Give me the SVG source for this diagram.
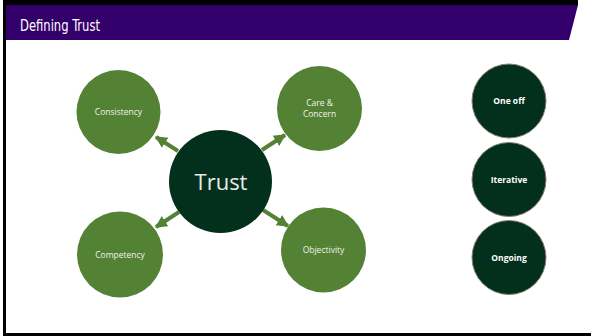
<svg xmlns="http://www.w3.org/2000/svg" width="591" height="336" viewBox="0 0 591 336">
<defs>
<style>
.sat{fill:#548235;}
.dark{fill:#03301d;}
.ring{fill:#03301d;stroke:#8a8070;stroke-width:1;}
.lbl{font-family:"Open Sans","DejaVu Sans",sans-serif;font-size:8.5px;fill:#eef2ea;text-anchor:middle;}
.blbl{font-family:"Open Sans","DejaVu Sans",sans-serif;font-size:8.5px;font-weight:bold;fill:#ffffff;text-anchor:middle;}
.conn{stroke:#548235;stroke-width:4;fill:none;}
</style>
<marker id="ah" viewBox="0 0 10 10" refX="9" refY="5" markerWidth="3" markerHeight="3.2" orient="auto" markerUnits="strokeWidth">
<path d="M0,0 L10,5 L0,10 Z" fill="#548235"/>
</marker>
</defs>
<rect width="591" height="336" fill="#ffffff"/>
<g id="frame">
<rect x="3" y="0" width="575" height="5" fill="#000000"/>
<rect x="3" y="0" width="3" height="336" fill="#000000"/>
<rect x="3" y="333" width="588" height="3" fill="#000000"/>
<polygon points="6,5 578,5 569,40 6,40" fill="#33006b"/>
<text x="20" y="31" font-family="'DejaVu Sans Condensed','Liberation Sans',sans-serif" font-size="15" fill="#ffffff" textLength="80" lengthAdjust="spacingAndGlyphs">Defining Trust</text>
</g>
<g id="connectors">
<line class="conn" x1="178" y1="151" x2="156" y2="137" marker-end="url(#ah)"/>
<line class="conn" x1="262" y1="150" x2="285" y2="135" marker-end="url(#ah)"/>
<line class="conn" x1="179" y1="212" x2="156" y2="227" marker-end="url(#ah)"/>
<line class="conn" x1="263" y1="210" x2="288" y2="226" marker-end="url(#ah)"/>
</g>
<g id="consistency">
<circle class="sat" cx="118.5" cy="112" r="42"/>
<text class="lbl" x="118.5" y="115">Consistency</text>
</g>
<g id="care">
<circle class="sat" cx="319.5" cy="108.5" r="42.5"/>
<text class="lbl" x="319.5" y="106">Care &amp;</text>
<text class="lbl" x="319.5" y="117">Concern</text>
</g>
<g id="trust">
<circle class="dark" cx="220.5" cy="181.5" r="51.5"/>
<text x="221" y="190" font-family="'Open Sans','DejaVu Sans',sans-serif" font-size="22" fill="#e8ece6" text-anchor="middle">Trust</text>
</g>
<g id="competency">
<circle class="sat" cx="120" cy="254.5" r="43"/>
<text class="lbl" x="120" y="257.5">Competency</text>
</g>
<g id="objectivity">
<circle class="sat" cx="323.5" cy="250" r="42.5"/>
<text class="lbl" x="323.5" y="253">Objectivity</text>
</g>
<g id="oneoff">
<circle class="ring" cx="509" cy="101" r="37"/>
<text class="blbl" x="509" y="104">One off</text>
</g>
<g id="iterative">
<circle class="ring" cx="509" cy="179.5" r="37"/>
<text class="blbl" x="509" y="182.5">Iterative</text>
</g>
<g id="ongoing">
<circle class="ring" cx="509" cy="257.5" r="37"/>
<text class="blbl" x="509" y="260.5">Ongoing</text>
</g>
</svg>
